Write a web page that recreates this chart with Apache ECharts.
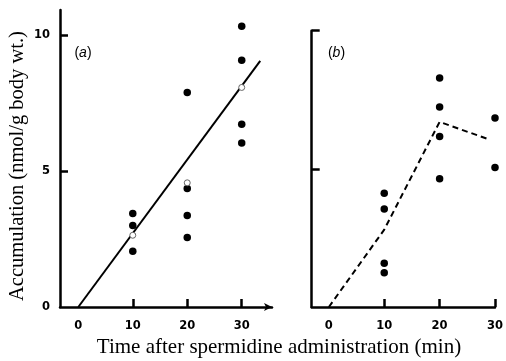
<!DOCTYPE html>
<html>
<head>
<meta charset="utf-8">
<script src="https://cdn.jsdelivr.net/npm/echarts@6/dist/echarts.min.js"></script>
<style>html,body{margin:0;padding:0;background:#fff;}#c{width:506px;height:361px;}</style>
</head>
<body>
<div id="c"></div>
<script>
// Panel (a)
const aFilledX = [10, 10, 10, 20, 20, 20, 20, 30, 30, 30, 30];
const aFilledY = [3.44, 3.0, 2.05, 7.89, 4.36, 3.37, 2.56, 10.33, 9.08, 6.73, 6.04];
const aOpenX = [10, 20, 30];
const aOpenY = [2.64, 4.57, 8.08];
const aFitX = [0, 33.4];
const aFitY = [0, 9.06];
// Panel (b)
const bFilledX = [10, 10, 10, 10, 20, 20, 20, 20, 30, 30];
const bFilledY = [4.12, 3.55, 1.58, 1.24, 8.29, 7.24, 6.17, 4.64, 6.84, 5.05];
const bLineX = [0, 10, 20, 28.7];
const bLineY = [0, 2.8, 6.7, 6.08];
// Ticks
const xTickLabels = [0, 10, 20, 30];
const xTicks = [10, 20, 30];
const aYTickLabels = [0, 5, 10];
const yTicks = [5, 10];

const zip = (xs, ys) => xs.map((x, i) => [x, ys[i]]);
const axisCol = '#000';
const tickFont = { fontFamily: '"DejaVu Sans", sans-serif', fontSize: 11.5, fontWeight: 'bold', color: '#000' };

const chart = echarts.init(document.getElementById('c'), null, { renderer: 'canvas' });
chart.setOption({
  animation: false,
  backgroundColor: '#fff',
  grid: [
    { left: 60, top: 10, width: 212, height: 297 },
    { left: 311.7, top: 30.7, width: 185, height: 276.3 }
  ],
  xAxis: [
    {
      type: 'value', gridIndex: 0, min: -3.36, max: 35.56,
      axisLine: { show: true, onZero: false, symbol: ['none', 'arrow'], symbolSize: [6, 8], lineStyle: { color: axisCol, width: 2.5 } },
      axisTick: { show: true, inside: true, length: 8, customValues: xTicks, lineStyle: { color: axisCol, width: 2.5 } },
      axisLabel: Object.assign({ customValues: xTickLabels, margin: 13 }, tickFont),
      splitLine: { show: false }
    },
    {
      type: 'value', gridIndex: 1, min: -3.1, max: 30,
      axisLine: { show: true, onZero: false, lineStyle: { color: axisCol, width: 2.5 } },
      axisTick: { show: true, inside: true, length: 8, customValues: xTicks, lineStyle: { color: axisCol, width: 2.5 } },
      axisLabel: Object.assign({ customValues: xTickLabels, margin: 13 }, tickFont),
      splitLine: { show: false }
    }
  ],
  yAxis: [
    {
      type: 'value', gridIndex: 0, min: 0, max: 10.93,
      axisLine: { show: true, onZero: false, lineStyle: { color: axisCol, width: 2.5 } },
      axisTick: { show: true, inside: true, length: 8, customValues: yTicks, lineStyle: { color: axisCol, width: 2.5 } },
      axisLabel: Object.assign({ customValues: aYTickLabels, margin: 10 }, tickFont),
      splitLine: { show: false }
    },
    {
      type: 'value', gridIndex: 1, min: 0, max: 10,
      axisLine: { show: true, onZero: false, lineStyle: { color: axisCol, width: 2.5 } },
      axisTick: { show: true, inside: true, length: 8, customValues: yTicks, lineStyle: { color: axisCol, width: 2.5 } },
      axisLabel: { show: false },
      splitLine: { show: false }
    }
  ],
  series: [
    { type: 'line', xAxisIndex: 0, yAxisIndex: 0, data: zip(aFitX, aFitY), showSymbol: false, symbol: 'none',
      lineStyle: { color: '#000', width: 2 }, z: 2 },
    { type: 'scatter', xAxisIndex: 0, yAxisIndex: 0, data: zip(aFilledX, aFilledY), symbol: 'circle', symbolSize: 7.5,
      itemStyle: { color: '#000', opacity: 1 }, z: 3 },
    { type: 'scatter', xAxisIndex: 0, yAxisIndex: 0, data: zip(aOpenX, aOpenY), symbol: 'circle', symbolSize: 6,
      itemStyle: { color: '#fff', borderColor: '#666', borderWidth: 1, opacity: 1 }, z: 4 },
    { type: 'line', xAxisIndex: 1, yAxisIndex: 1, data: zip(bLineX, bLineY), showSymbol: false, symbol: 'none',
      lineStyle: { color: '#000', width: 2, type: [6, 4] }, z: 2 },
    { type: 'scatter', xAxisIndex: 1, yAxisIndex: 1, data: zip(bFilledX, bFilledY), symbol: 'circle', symbolSize: 7.5,
      itemStyle: { color: '#000', opacity: 1 }, z: 3 }
  ],
  graphic: [
    { type: 'text', x: 18, y: 166, rotation: Math.PI / 2,
      style: { text: 'Accumulation (nmol/g body wt.)', font: '20.5px "Liberation Serif", "Times New Roman", serif', fill: '#000', align: 'center', verticalAlign: 'middle' } },
    { type: 'text', x: 279, y: 347,
      style: { text: 'Time after spermidine administration (min)', font: '21px "Liberation Serif", "Times New Roman", serif', fill: '#000', align: 'center', verticalAlign: 'middle' } },
    { type: 'text', x: 83, y: 53,
      style: { text: '({i|a})', font: '14px "Liberation Sans", sans-serif', fill: '#000', align: 'center', verticalAlign: 'middle',
        rich: { i: { fontStyle: 'italic', fontSize: 14, fontFamily: '"Liberation Sans", sans-serif' } } } },
    { type: 'text', x: 336.5, y: 53,
      style: { text: '({i|b})', font: '14px "Liberation Sans", sans-serif', fill: '#000', align: 'center', verticalAlign: 'middle',
        rich: { i: { fontStyle: 'italic', fontSize: 14, fontFamily: '"Liberation Sans", sans-serif' } } } }
  ]
});
</script>
</body>
</html>
